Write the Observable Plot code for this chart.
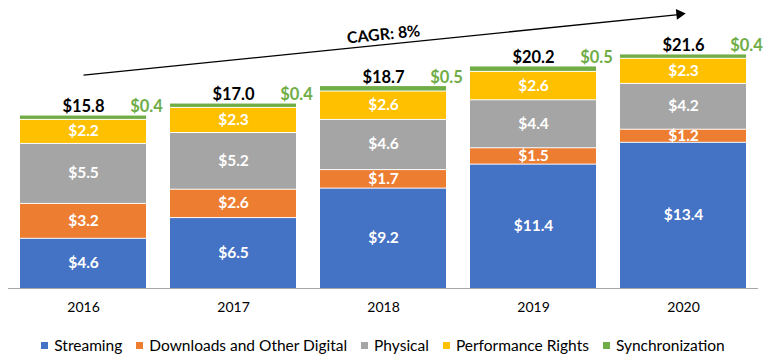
<!DOCTYPE html>
<html>
<head>
<meta charset="utf-8">
<script src="https://cdn.jsdelivr.net/npm/d3@7"></script>
<script src="https://cdn.jsdelivr.net/npm/@observablehq/plot@0.6"></script>
<style>
  body { margin: 0; background: #fff; font-family: Lato, sans-serif; }
  #chart svg { display: block; }
  #leg .lg-swatches { font-family: Lato, sans-serif; font-size: 15.5px; color: #000; margin: 0; justify-content: center; min-height: 34px; }
  #leg .lg-swatch { margin-right: 14px; }
  #leg .lg-swatch:last-child { margin-right: 0; }
  #leg .lg-swatch > svg { margin-right: 6px; }
</style>
</head>
<body>
<div id="chart"></div>
<div id="leg"></div>
<script>
const years = ["2016", "2017", "2018", "2019", "2020"];
const seriesNames = ["Streaming", "Downloads and Other Digital", "Physical", "Performance Rights", "Synchronization"];
const seriesColors = ["#4472C4", "#ED7D31", "#A5A5A5", "#FFC000", "#70AD47"];
const streaming = [4.6, 6.5, 9.2, 11.4, 13.4];
const downloads = [3.2, 2.6, 1.7, 1.5, 1.2];
const physical = [5.5, 5.2, 4.6, 4.4, 4.2];
const performance = [2.2, 2.3, 2.6, 2.6, 2.3];
const synchronization = [0.4, 0.4, 0.5, 0.5, 0.4];
const totals = [15.8, 17.0, 18.7, 20.2, 21.6];

const seriesValues = [streaming, downloads, physical, performance, synchronization];
const table = [];
years.forEach((yr, i) => seriesNames.forEach((s, j) => table.push({year: yr, series: s, value: seriesValues[j][i]})));
const tops = years.map((_, i) => d3.sum(seriesValues, v => v[i]));
const totalRows = years.map((yr, i) => ({year: yr, top: tops[i], total: totals[i], sync: synchronization[i]}));
const cagr = Math.pow(totals[totals.length - 1] / totals[0], 1 / (years.length - 1)) - 1;
const fmt = v => "$" + v.toFixed(1);

const W = 766, H = 328, mL = 8, mR = 8, mT = 0, mB = 40;
const yMax = 26.4;
const arrowLift = 3.65;
const arrowRow = [{x1: years[0], x2: years[years.length - 1], y1: tops[0] + arrowLift, y2: tops[tops.length - 1] + arrowLift}];
const midRow = [{x: years[Math.floor(years.length / 2)], y: (arrowRow[0].y1 + arrowRow[0].y2) / 2}];

const sx = Plot.scale({x: {type: "band", domain: years, range: [mL, W - mR], paddingInner: 0.16, paddingOuter: 0.08}});
const sy = Plot.scale({y: {domain: [0, yMax], range: [H - mB, mT]}});
const angle = Math.atan2(sy.apply(arrowRow[0].y2) - sy.apply(arrowRow[0].y1), sx.apply(arrowRow[0].x2) - sx.apply(arrowRow[0].x1)) * 180 / Math.PI;

const chart = Plot.plot({
  width: W, height: H,
  marginLeft: mL, marginRight: mR, marginTop: mT, marginBottom: mB,
  style: {fontFamily: "Lato, sans-serif", fontSize: "14px", color: "#000", background: "#fff", overflow: "visible"},
  x: {domain: years, paddingInner: 0.16, paddingOuter: 0.08, label: null, tickSize: 0, tickPadding: 14},
  y: {domain: [0, yMax], axis: null},
  color: {domain: seriesNames, range: seriesColors},
  marks: [
    Plot.barY(table, Plot.stackY({x: "year", y: "value", z: "series", fill: "series", insetTop: 1})),
    Plot.ruleY([0], {stroke: "#a6a6a6", strokeWidth: 1.2}),
    Plot.text(table, Plot.stackY({
      x: "year", y: "value", z: "series",
      filter: d => d.series !== "Synchronization",
      text: d => fmt(d.value),
      fill: "white", fontWeight: "bold", fontSize: 15.5
    })),
    Plot.text(totalRows, {x: "year", y: "top", text: d => fmt(d.total), lineAnchor: "bottom", dy: -3, fontWeight: "bold", fontSize: 16.5, fill: "black"}),
    Plot.text(totalRows, {x: "year", y: "top", text: d => fmt(d.sync), lineAnchor: "bottom", dy: -3, dx: sx.bandwidth / 2, fontWeight: "bold", fontSize: 16.5, fill: "#70AD47"}),
    Plot.link(arrowRow, {x1: "x1", y1: "y1", x2: "x2", y2: "y2", stroke: "black", strokeWidth: 1.3}),
    Plot.dot(arrowRow, {x: "x2", y: "y2", symbol: "triangle", r: 4, fill: "black", rotate: 90 + angle, dx: -4}),
    Plot.text(midRow, {x: "x", y: "y", text: () => "CAGR: " + Math.round(cagr * 100) + "%", rotate: angle, dy: -10, fontWeight: "bold", fontSize: 16, fill: "black"})
  ]
});
document.getElementById("chart").appendChild(chart);
const legend = chart.legend("color", {swatchSize: 7, className: "lg"});
document.getElementById("leg").appendChild(legend);
</script>
</body>
</html>
